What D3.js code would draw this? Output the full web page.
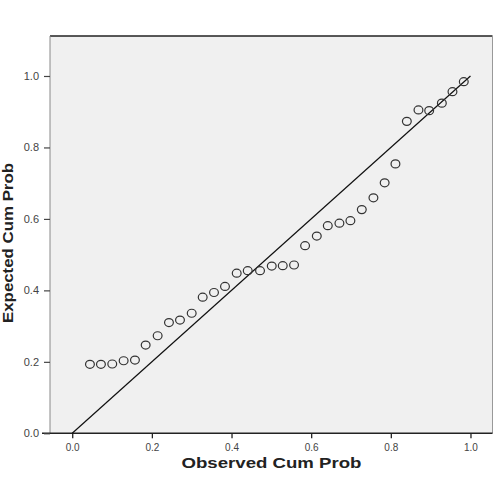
<!DOCTYPE html>
<html><head><meta charset="utf-8">
<script src="https://cdn.jsdelivr.net/npm/d3@7"></script>
<style>body{margin:0;background:#fff}svg{display:block}</style>
</head><body>
<svg id="c" width="499" height="482"></svg>
<script>
const observed = [0.0445,0.0721,0.1005,0.1291,0.1575,0.1844,0.2145,0.2429,0.2706,0.3000,0.3276,0.3560,0.3836,0.4130,0.4407,0.4716,0.5010,0.5286,0.5570,0.5847,0.6141,0.6417,0.6709,0.6985,0.7271,0.7563,0.7845,0.8116,0.8402,0.8694,0.8963,0.9281,0.9548,0.9832];
const expected = [0.193,0.193,0.194,0.203,0.205,0.247,0.273,0.310,0.317,0.336,0.381,0.394,0.411,0.448,0.455,0.455,0.468,0.469,0.471,0.525,0.552,0.581,0.588,0.595,0.626,0.659,0.701,0.754,0.873,0.905,0.903,0.924,0.956,0.984];
const tickValues = [0.0,0.2,0.4,0.6,0.8,1.0];
const refLine = [[0,0],[1,1]];

const svg = d3.select("#c");
const L=50, R=492.5, T=36, B=433.3;
const x = d3.scaleLinear().domain([-0.0558,1.0553]).range([L,R]);
const y = d3.scaleLinear().domain([0,1.1119]).range([B,T]);

svg.append("rect").attr("x",L).attr("y",T).attr("width",R-L).attr("height",B-T).attr("fill","#f0f0f0");
// frame
svg.append("line").attr("x1",L).attr("x2",R).attr("y1",T).attr("y2",T).attr("stroke","#222").attr("stroke-width",1.3);
svg.append("line").attr("x1",R).attr("x2",R).attr("y1",T).attr("y2",B).attr("stroke","#999").attr("stroke-width",1);
svg.append("line").attr("x1",L).attr("x2",L).attr("y1",T).attr("y2",B).attr("stroke","#888").attr("stroke-width",1);

const fmt = d3.format(".1f");
const xa = svg.append("g").attr("transform",`translate(0,${B})`)
  .call(d3.axisBottom(x).tickValues(tickValues).tickFormat(fmt).tickSize(5).tickPadding(6));
xa.select(".domain").attr("d",`M42,0H${R}`).attr("stroke","#222").attr("stroke-width",1.5);
xa.selectAll(".tick line").attr("stroke","#222").attr("stroke-width",1.3);
xa.selectAll(".tick text").attr("fill","#444").style("font-family","Liberation Sans, Arial, sans-serif").style("font-size","10px");

const ya = svg.append("g").attr("transform",`translate(${L},0)`)
  .call(d3.axisLeft(y).tickValues(tickValues).tickFormat(fmt).tickSize(6).tickPadding(5));
ya.select(".domain").remove();
ya.selectAll(".tick line").attr("stroke","#444").attr("stroke-width",1.2);
ya.selectAll(".tick text").attr("fill","#444").style("font-family","Liberation Sans, Arial, sans-serif").style("font-size","11px");

// reference line
svg.append("path").datum(refLine)
  .attr("d",d3.line().x(d=>x(d[0])).y(d=>y(d[1])))
  .attr("stroke","#111").attr("stroke-width",1.2).attr("fill","none");

// points
svg.append("g").selectAll("ellipse").data(observed.map((o,i)=>[o,expected[i]])).join("ellipse")
  .attr("cx",d=>x(d[0])).attr("cy",d=>y(d[1])).attr("rx",4.4).attr("ry",4)
  .attr("fill","none").attr("stroke","#333").attr("stroke-width",1.2);

svg.append("text").attr("x",271.5).attr("y",468).attr("text-anchor","middle")
  .attr("textLength",180).attr("lengthAdjust","spacingAndGlyphs")
  .style("font-family","Liberation Sans, Arial, sans-serif").style("font-weight","bold").style("font-size","15px")
  .attr("fill","#222").text("Observed Cum Prob");
svg.append("text").attr("transform","translate(13,243) rotate(-90)").attr("text-anchor","middle")
  .attr("textLength",160).attr("lengthAdjust","spacingAndGlyphs")
  .style("font-family","Liberation Sans, Arial, sans-serif").style("font-weight","bold").style("font-size","15px")
  .attr("fill","#222").text("Expected Cum Prob");
</script>
</body></html>
